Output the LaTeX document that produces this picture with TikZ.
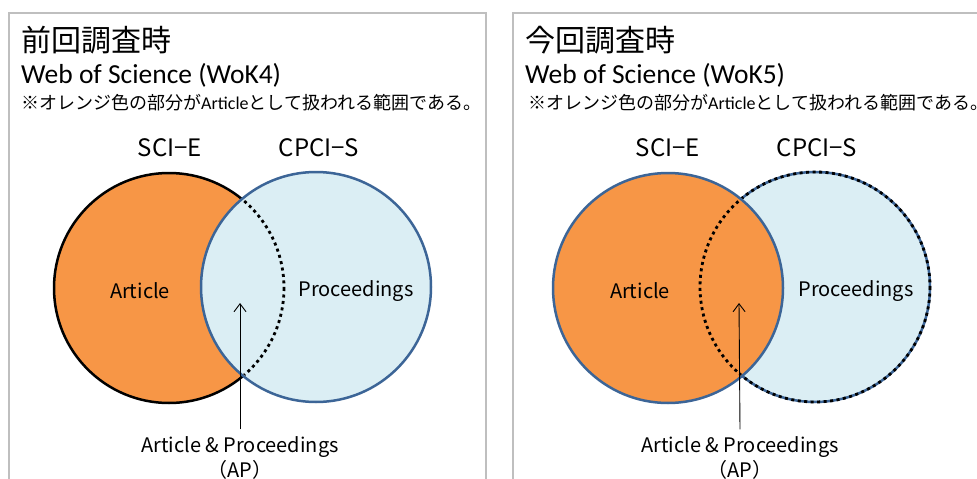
\documentclass[tikz,border=0pt]{standalone}
\usepackage{fontspec}
\usetikzlibrary{arrows.meta}
\setmainfont{Carlito}
\newfontfamily\jp{Noto Sans CJK JP}
\definecolor{orng}{HTML}{F79646}
\definecolor{lblue}{HTML}{DBEEF4}
\definecolor{bblue}{HTML}{3C6597}
\definecolor{pgray}{HTML}{BFBFBF}
\tikzset{
  panel/.style={draw=pgray, line width=2.5pt},
  ttl/.style={anchor=west, inner sep=0pt, font=\jp\fontsize{30}{30}\selectfont},
  sub/.style={anchor=west, inner sep=0pt, font=\fontsize{27.5}{27.5}\selectfont},
  note/.style={anchor=west, inner sep=0pt, font=\jp\fontsize{18}{18}\selectfont},
  lbl/.style={inner sep=0pt, font=\jp\fontsize{24}{24}\selectfont},
  clbl/.style={inner sep=0pt, font=\jp\fontsize{20}{20}\selectfont},
  venn/.style={circle, minimum size=230pt, inner sep=0pt},
  dots/.style={draw=black, line width=2.8pt, dash pattern=on 3pt off 3.5pt},
  ptr/.style={draw=black, line width=0.9pt, -{Straight Barb[length=8pt,width=12pt]}},
}
\begin{document}
\begin{tikzpicture}[x=1pt,y=-1pt]
\useasboundingbox (0,0) rectangle (977,479);
\clip (0,0) rectangle (977,479);
\fill[white] (0,0) rectangle (977,479);

% ---------- left panel ----------
\draw[panel] (9,13) rectangle (486,520);
\node[ttl] (t1) at (21,40) {前回調査時};
\node[sub] (s1) at (21,75) {Web of Science (WoK4)};
\node[note] (n1) at (21,103) {※オレンジ色の部分が{\rmfamily Article}として扱われる範囲である。};
\node[lbl] (h1a) at (170,148) {SCI−E};
\node[lbl] (h1b) at (319,148) {CPCI−S};

\node[venn, fill=orng, draw=black, line width=2.5pt] (L1) at (169,288) {};
\node[venn, fill=lblue, draw=bblue, line width=2.5pt] (R1) at (316,287) {};
\begin{scope}
  \clip (R1.center) circle (113.5);
  \draw[dots] (L1.center) circle (115);
\end{scope}
\node[clbl] (a1) at (140,291) {Article};
\node[clbl] (p1) at (356,291) {Proceedings};
\node[clbl, align=center] (ap1) at (240,458) {Article \& Proceedings\\[2pt]（AP）};
\coordinate (tip1) at (240,303);
\draw[ptr] ([yshift=7pt]ap1.north) -- (tip1);

% ---------- right panel ----------
\draw[panel] (513,13) rectangle (1000,520);
\node[ttl] (t2) at (525,40) {今回調査時};
\node[sub] (s2) at (525,75) {Web of Science (WoK5)};
\node[note] (n2) at (528,103) {※オレンジ色の部分が{\rmfamily Article}として扱われる範囲である。};
\node[lbl] (h2a) at (668,148) {SCI−E};
\node[lbl] (h2b) at (817,148) {CPCI−S};

\node[venn, fill=lblue, draw=bblue, line width=2.5pt] (R2) at (815,287) {};
\draw[dots] (R2.center) circle (115);
\node[venn, fill=orng, draw=bblue, line width=2.5pt] (L2) at (668,288) {};
\begin{scope}
  \clip (L2.center) circle (113.5);
  \draw[dots] (R2.center) circle (115);
\end{scope}
\node[clbl] (a2) at (640,291) {Article};
\node[clbl] (p2) at (856,291) {Proceedings};
\node[clbl, align=center] (ap2) at (740,458) {Article \& Proceedings\\[2pt]（AP）};
\coordinate (tip2) at (739,303);
\draw[ptr] ([yshift=7pt]ap2.north) -- (tip2);
\end{tikzpicture}
\end{document}
